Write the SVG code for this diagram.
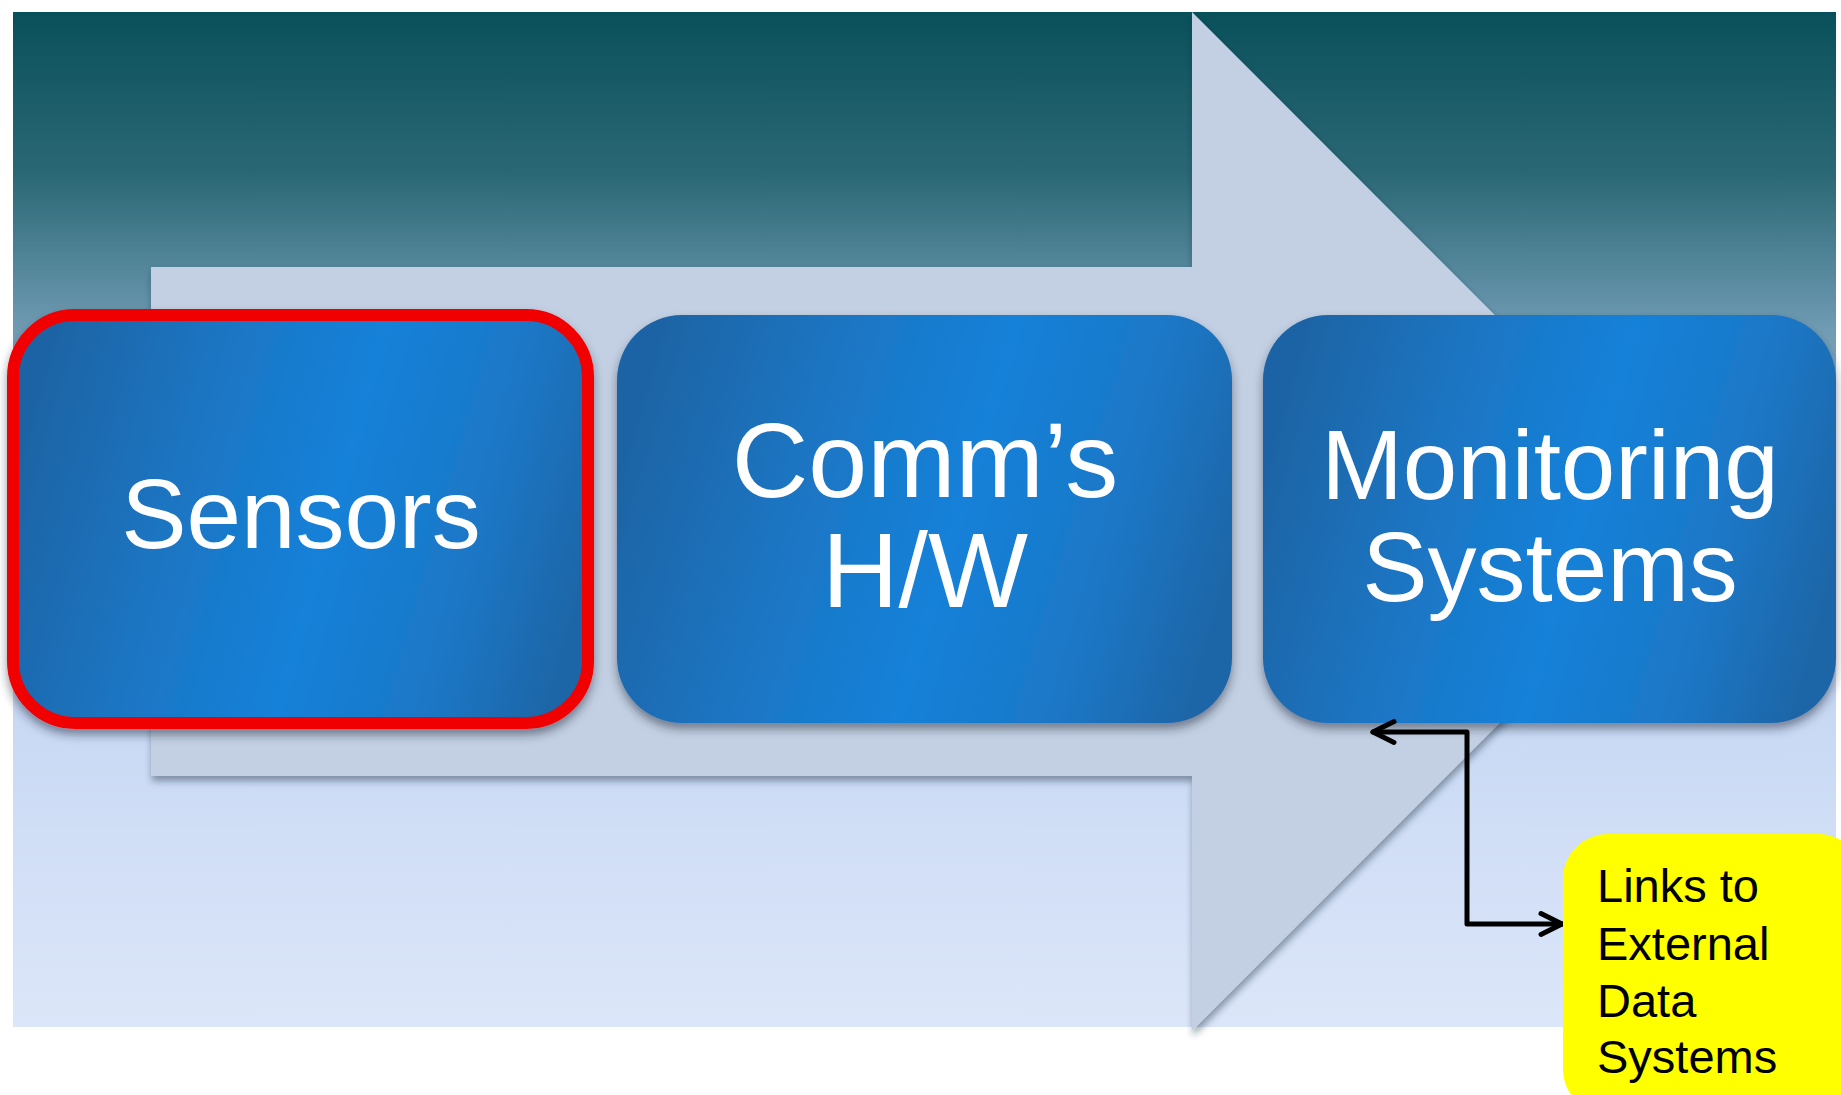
<svg xmlns="http://www.w3.org/2000/svg" width="1841" height="1095" viewBox="0 0 1841 1095">
  <style>
    .big { font-family: "Liberation Sans", Arial, sans-serif; fill: #FFFFFF; text-anchor: middle; }
    .note { font-family: "Liberation Sans", Arial, sans-serif; fill: #000000; font-size: 47px; }
    .box { fill: url(#boxGrad); filter: url(#boxShadow); }
    .conn { fill: none; stroke: #000000; stroke-width: 5; stroke-linecap: round; stroke-linejoin: round; }
  </style>
  <defs>
    <linearGradient id="bgGrad" gradientUnits="userSpaceOnUse" x1="0" y1="12" x2="0" y2="1027">
      <stop offset="0" stop-color="#09505A"/>
      <stop offset="0.16" stop-color="#2B6875"/>
      <stop offset="0.31" stop-color="#6E9AB2"/>
      <stop offset="0.45" stop-color="#A3BFD8"/>
      <stop offset="0.70" stop-color="#C9D9F4"/>
      <stop offset="1" stop-color="#DCE6F9"/>
    </linearGradient>
    <linearGradient id="boxGrad" x1="0" y1="0.4" x2="1" y2="0.6">
      <stop offset="0" stop-color="#1F64A5"/>
      <stop offset="0.3" stop-color="#1B76C4"/>
      <stop offset="0.55" stop-color="#1681D9"/>
      <stop offset="0.8" stop-color="#1B77C6"/>
      <stop offset="1" stop-color="#1F66A8"/>
    </linearGradient>
    <filter id="arrowShadow" x="-5%" y="-5%" width="110%" height="115%">
      <feDropShadow dx="1" dy="5" stdDeviation="3.5" flood-color="#1A2A3A" flood-opacity="0.45"/>
    </filter>
    <filter id="boxShadow" x="-5%" y="-5%" width="110%" height="115%">
      <feDropShadow dx="0" dy="6" stdDeviation="5" flood-color="#1A2A3A" flood-opacity="0.5"/>
    </filter>
    <marker id="chev" markerUnits="userSpaceOnUse" markerWidth="30" markerHeight="30" viewBox="-26 -15 30 30" refX="0" refY="0" orient="auto-start-reverse">
      <path d="M -21 -10.5 L 0 0 L -21 10.5" fill="none" stroke="#000000" stroke-width="5" stroke-linecap="round" stroke-linejoin="round"/>
    </marker>
  </defs>

  <rect id="background" x="13" y="12" width="1823" height="1015" fill="url(#bgGrad)"/>

  <g id="process-arrow">
    <polygon points="151,267 1192,267 1192,12 1701,521.5 1192,1031 1192,776 151,776" fill="#C3D0E3" filter="url(#arrowShadow)"/>
  </g>

  <g id="node-sensors">
    <rect class="box" x="13" y="315" width="575" height="408" rx="62" ry="62" stroke="#F00000" stroke-width="12"/>
    <text class="big" x="301" y="548" font-size="98">Sensors</text>
  </g>

  <g id="node-comms">
    <rect class="box" x="617" y="315" width="615" height="408" rx="65" ry="65"/>
    <text class="big" x="925" y="497" font-size="106">Comm’s</text>
    <text class="big" x="925" y="607" font-size="106">H/W</text>
  </g>

  <g id="node-monitoring">
    <rect class="box" x="1263" y="315" width="573" height="408" rx="65" ry="65"/>
    <text class="big" x="1550" y="499" font-size="98">Monitoring</text>
    <text class="big" x="1550" y="601" font-size="98">Systems</text>
  </g>

  <g id="connectors">
    <path class="conn" d="M 1373 732 H 1467 V 924 H 1562" marker-start="url(#chev)" marker-end="url(#chev)"/>
  </g>

  <g id="node-links">
    <rect x="1563" y="834" width="300" height="280" rx="45" ry="45" fill="#FFFF00"/>
    <text class="note" x="1597" y="902">Links to</text>
    <text class="note" x="1597" y="960">External</text>
    <text class="note" x="1597" y="1017">Data</text>
    <text class="note" x="1597" y="1073">Systems</text>
  </g>
</svg>
